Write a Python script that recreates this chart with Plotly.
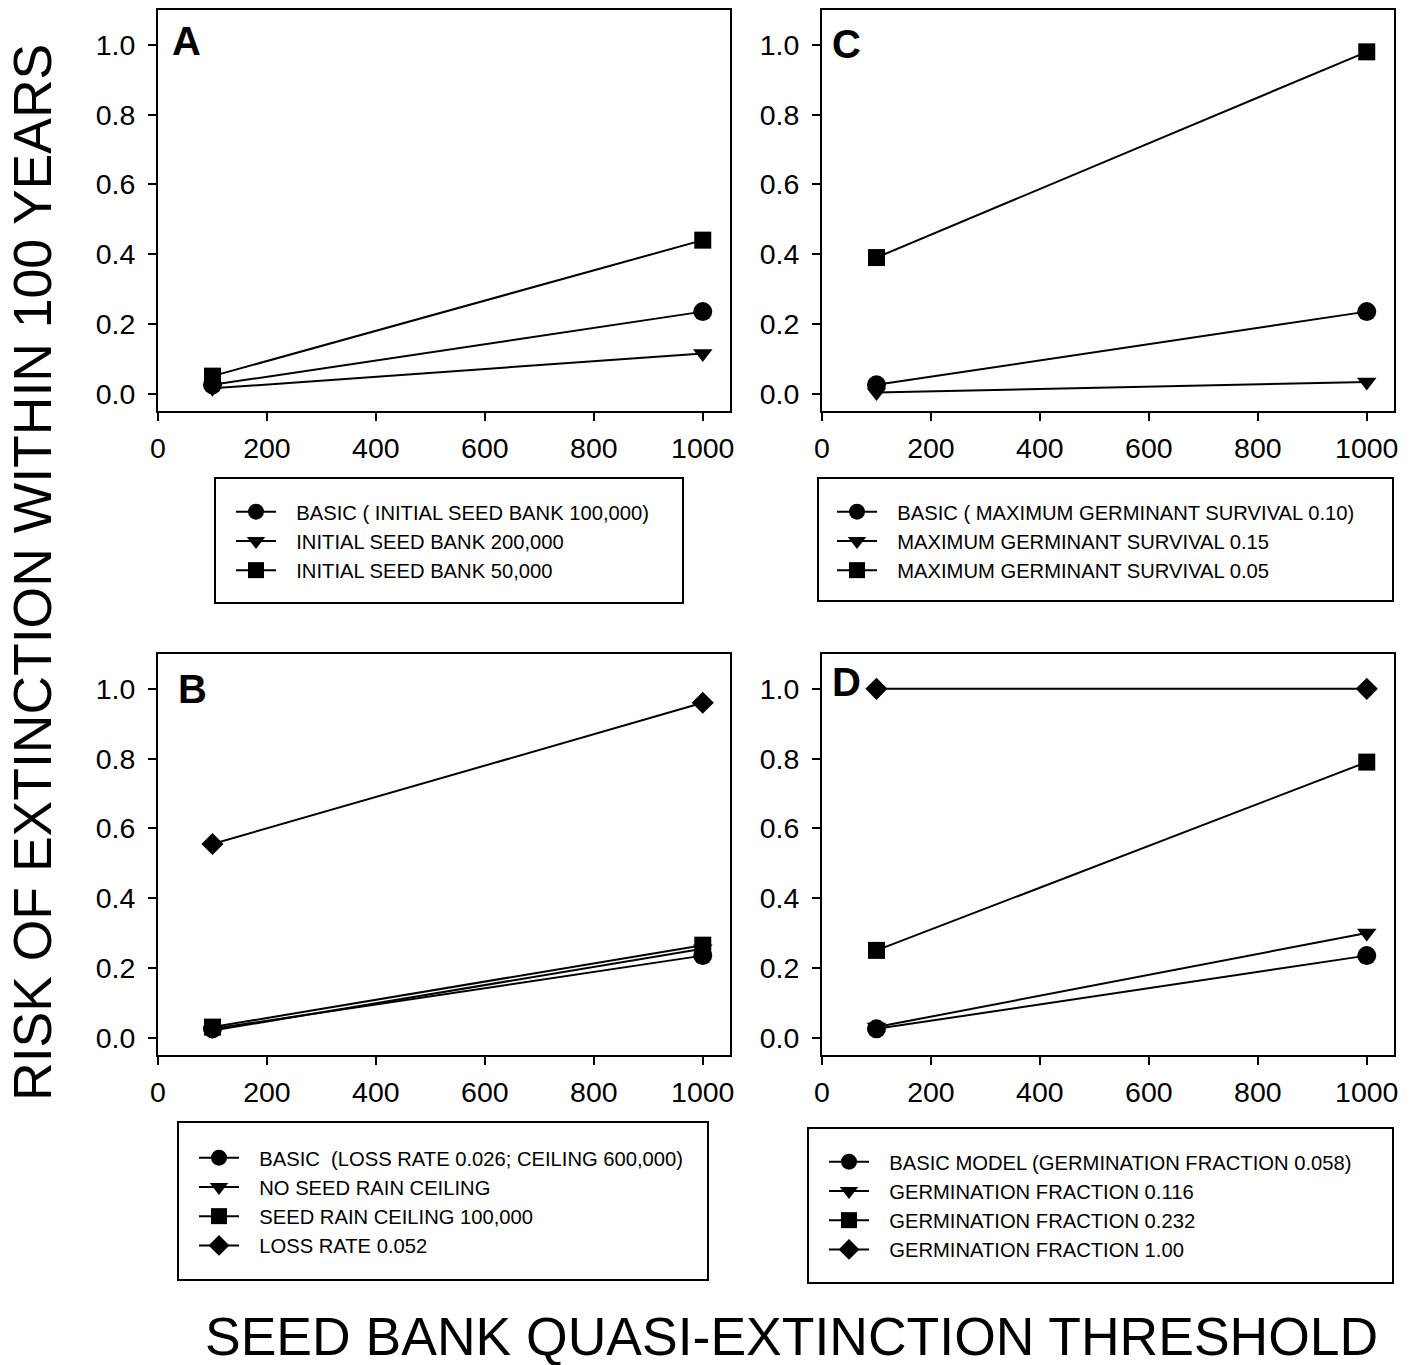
import plotly.graph_objects as go

W, H = 1416, 1365

thresholds = [100, 1000]

# Panel A
a_basic = [0.025, 0.235]
a_seed200k = [0.015, 0.115]
a_seed50k = [0.05, 0.44]
a_names = ["BASIC ( INITIAL SEED BANK 100,000)", "INITIAL SEED BANK 200,000", "INITIAL SEED BANK 50,000"]

# Panel B
b_basic = [0.025, 0.235]
b_noceil = [0.02, 0.255]
b_ceil100k = [0.03, 0.265]
b_loss052 = [0.555, 0.96]
b_names = ["BASIC  (LOSS RATE 0.026; CEILING 600,000)", "NO SEED RAIN CEILING",
           "SEED RAIN CEILING 100,000", "LOSS RATE 0.052"]

# Panel C
c_basic = [0.025, 0.235]
c_surv015 = [0.003, 0.033]
c_surv005 = [0.39, 0.98]
c_names = ["BASIC ( MAXIMUM GERMINANT SURVIVAL 0.10)", "MAXIMUM GERMINANT SURVIVAL 0.15",
           "MAXIMUM GERMINANT SURVIVAL 0.05"]

# Panel D
d_basic = [0.025, 0.235]
d_g0116 = [0.03, 0.30]
d_g0232 = [0.25, 0.79]
d_g100 = [1.0, 1.0]
d_names = ["BASIC MODEL (GERMINATION FRACTION 0.058)", "GERMINATION FRACTION 0.116",
           "GERMINATION FRACTION 0.232", "GERMINATION FRACTION 1.00"]

x_ticks = [0, 200, 400, 600, 800, 1000]
y_ticks = [0.0, 0.2, 0.4, 0.6, 0.8, 1.0]
y_tick_text = ["0.0", "0.2", "0.4", "0.6", "0.8", "1.0"]

FONT = "Liberation Sans, Arial, sans-serif"
NB = "\u00a0\u00a0\u2009"

def px_x(p):
    return p / W

def px_y(p):
    return 1 - p / H

symbols = {"circle": ("circle", 19), "tri": ("triangle-down", 17), "sq": ("square", 17), "dia": ("diamond", 17)}

fig = go.Figure()

panels = [
    ("", "legend", [(a_basic, "circle"), (a_seed200k, "tri"), (a_seed50k, "sq")], a_names),
    ("2", "legend2", [(c_basic, "circle"), (c_surv015, "tri"), (c_surv005, "sq")], c_names),
    ("3", "legend3", [(b_basic, "circle"), (b_noceil, "tri"), (b_ceil100k, "sq"), (b_loss052, "dia")], b_names),
    ("4", "legend4", [(d_basic, "circle"), (d_g0116, "tri"), (d_g0232, "sq"), (d_g100, "dia")], d_names),
]

for suffix, leg, series, names in panels:
    for (vals, sym), name in zip(series, names):
        s, size = symbols[sym]
        fig.add_trace(go.Scatter(
            x=thresholds, y=vals, mode="lines+markers", name=NB + name,
            line=dict(color="black", width=2),
            marker=dict(symbol=s, size=size, color="black", line=dict(width=0)),
            xaxis="x" + suffix, yaxis="y" + suffix, legend=leg,
        ))

col_x = [(158, 730), (822, 1394)]
row_y = [(10, 411), (654, 1055)]
layout_axes = {}
panel_pos = {"": (0, 0), "2": (1, 0), "3": (0, 1), "4": (1, 1)}
for suffix, (ci, ri) in panel_pos.items():
    x0, x1 = col_x[ci]
    y0, y1 = row_y[ri]
    xa = dict(domain=[px_x(x0), px_x(x1)], range=[0, 1050], tickvals=x_ticks,
              ticks="outside", ticklen=8, tickwidth=2, tickcolor="black",
              showline=True, linecolor="black", linewidth=2, mirror=True,
              showgrid=False, zeroline=False, anchor="y" + suffix, ticklabelstandoff=3,
              tickfont=dict(family=FONT, size=28.5, color="black"))
    ya = dict(domain=[px_y(y1), px_y(y0)], range=[-0.05, 1.1], tickvals=y_ticks, ticktext=y_tick_text,
              ticks="outside", ticklen=8, tickwidth=2, tickcolor="black",
              showline=True, linecolor="black", linewidth=2, mirror=True,
              showgrid=False, zeroline=False, anchor="x" + suffix, ticklabelstandoff=7,
              tickfont=dict(family=FONT, size=28.5, color="black"))
    layout_axes["xaxis" + suffix] = xa
    layout_axes["yaxis" + suffix] = ya

fig.update_layout(**layout_axes)

# legend boxes (pixel coords): left, top, right, bottom, legend-left, legend-top
boxes = {
    "legend": (215, 478, 683, 603, 231, 492),
    "legend2": (818, 478, 1393, 601, 832, 492),
    "legend3": (178, 1122, 708, 1280, 194, 1138),
    "legend4": (808, 1128, 1393, 1283, 824, 1142),
}
shapes = []
legends = {}
for leg, (l, t, r, b, lx, ly) in boxes.items():
    shapes.append(dict(type="rect", xref="paper", yref="paper",
                       x0=px_x(l), x1=px_x(r), y0=px_y(b), y1=px_y(t),
                       line=dict(color="black", width=2), fillcolor="rgba(0,0,0,0)"))
    legends[leg] = dict(x=px_x(lx), y=px_y(ly), xanchor="left", yanchor="top",
                        bgcolor="rgba(0,0,0,0)", borderwidth=0, itemwidth=40,
                        font=dict(family=FONT, size=20.2, color="black"),
                        tracegroupgap=0, itemclick=False)

annotations = []
# letter, axis suffix, left offset px, top offset px (from frame top-left)
letters = [("A", "", 12, 7), ("C", "2", 8, 10), ("B", "3", 18, 11), ("D", "4", 8, 4)]
for letter, suffix, dx, dy in letters:
    annotations.append(dict(text="<b>%s</b>" % letter, xref=("x" + suffix) + " domain",
                            yref=("y" + suffix) + " domain",
                            x=dx / 572, y=1 - dy / 401, xanchor="left", yanchor="top",
                            showarrow=False, font=dict(family=FONT, size=40, color="black")))

annotations.append(dict(text="RISK OF EXTINCTION WITHIN 100 YEARS", xref="paper", yref="paper",
                        x=px_x(32), y=px_y(573), xanchor="center", yanchor="middle", textangle=-90,
                        showarrow=False, font=dict(family=FONT, size=53.5, color="black")))
annotations.append(dict(text="SEED BANK QUASI-EXTINCTION THRESHOLD", xref="paper", yref="paper",
                        x=px_x(791), y=px_y(1336), xanchor="center", yanchor="middle",
                        height=58, valign="middle",
                        showarrow=False, font=dict(family=FONT, size=53.5, color="black")))

fig.update_layout(width=W, height=H, margin=dict(l=0, r=0, t=0, b=0, autoexpand=False),
                  paper_bgcolor="white", plot_bgcolor="white",
                  showlegend=True, shapes=shapes, annotations=annotations, **legends)

fig.write_html("out.html")
